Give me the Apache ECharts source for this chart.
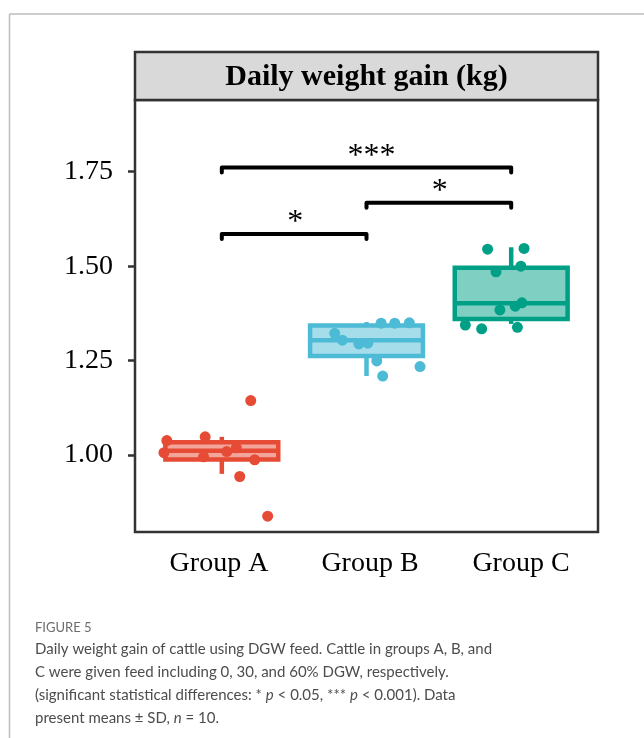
<!DOCTYPE html>
<html>
<head>
<meta charset="utf-8">
<script src="https://cdn.jsdelivr.net/npm/echarts@6/dist/echarts.min.js"></script>
<style>
  html, body { margin: 0; padding: 0; background: #fff; }
  #chart { width: 644px; height: 738px; }
</style>
</head>
<body>
<div id="chart"></div>
<script>
// Groups and their palette
const groups = ['Group A', 'Group B', 'Group C'];
const colors = ['#E64B35', '#4DBBD5', '#00A087'];
const fills = ['rgba(230,75,53,0.5)', 'rgba(77,187,213,0.5)', 'rgba(0,160,135,0.5)'];

// Daily weight gain of each animal (kg/day), n = 10 per group
const gainA = [1.144, 1.038, 1.006, 1.048, 0.995, 1.009, 1.019, 0.987, 0.943, 0.838];
const gainB = [1.322, 1.304, 1.294, 1.296, 1.249, 1.209, 1.349, 1.349, 1.350, 1.234];
const gainC = [1.545, 1.547, 1.485, 1.500, 1.384, 1.394, 1.403, 1.344, 1.334, 1.338];

// Horizontal jitter of each animal's dot (category units)
const jitterA = [0.20, -0.38, -0.40, -0.115, -0.126, 0.034, 0.10, 0.227, 0.124, 0.317];
const jitterB = [-0.22, -0.167, -0.053, 0.009, 0.071, 0.112, 0.101, 0.195, 0.296, 0.37];
const jitterC = [-0.163, 0.089, -0.105, 0.067, -0.078, 0.028, 0.074, -0.317, -0.204, 0.043];

// Box summaries: [whisker low, Q1, median, Q3, whisker high]
const boxA = [0.950, 0.988, 1.011, 1.034, 1.048];
const boxB = [1.209, 1.262, 1.304, 1.343, 1.352];
const boxC = [1.347, 1.360, 1.402, 1.496, 1.550];

// Y axis ticks
const yTicks = [1.00, 1.25, 1.50, 1.75];

// Significance brackets between groups (1-based group positions)
const bracketFrom = [1, 2, 1];
const bracketTo = [2, 3, 3];
const bracketY = [1.585, 1.668, 1.761];
const bracketMark = ['*', '*', '***'];

const gains = [gainA, gainB, gainC];
const jitters = [jitterA, jitterB, jitterC];
const boxes = [boxA, boxB, boxC];

const serif = '"Liberation Serif", "Times New Roman", serif';
const sans = 'Lato, "Open Sans", sans-serif';

const chart = echarts.init(document.getElementById('chart'), null, { renderer: 'canvas' });

const boxData = boxes.map((b, i) => [i + 1].concat(b));
const bracketData = bracketFrom.map((f, i) => [f, bracketTo[i], bracketY[i]]);

const pointSeries = gains.map((vals, g) => ({
  type: 'scatter',
  xAxisIndex: 0,
  yAxisIndex: 0,
  symbol: 'circle',
  symbolSize: 11,
  itemStyle: { color: colors[g], opacity: 1 },
  z: 5,
  silent: true,
  data: vals.map((v, k) => [g + 1 + jitters[g][k], v])
}));

const captionFont = '15px ' + sans;
const captionColor = '#4d4d4d';

const option = {
  animation: false,
  backgroundColor: '#fff',
  grid: {
    left: 135, right: 46, top: 100, bottom: 206,
    show: true,
    borderColor: '#333',
    borderWidth: 2.5,
    backgroundColor: 'transparent',
    containLabel: false
  },
  xAxis: [
    {
      type: 'value', min: 0.4, max: 3.6, position: 'bottom',
      axisLine: { show: false }, axisTick: { show: false },
      axisLabel: { show: false }, splitLine: { show: false }
    },
    {
      // label-only axis for the group names
      type: 'value', min: 0.4437, max: 3.51, position: 'bottom',
      axisLine: { show: false }, axisTick: { show: false },
      splitLine: { show: false },
      axisLabel: {
        customValues: [1, 2, 3],
        formatter: v => groups[Math.round(v) - 1],
        fontFamily: serif, fontSize: 28, color: '#000', margin: 18
      }
    }
  ],
  yAxis: {
    type: 'value', min: 0.796, max: 1.94,
    axisLine: { show: false },
    splitLine: { show: false },
    axisTick: {
      show: true, customValues: yTicks, length: 7,
      lineStyle: { color: '#333', width: 2.5 }
    },
    axisLabel: {
      customValues: yTicks,
      formatter: v => v.toFixed(2),
      fontFamily: serif, fontSize: 28, color: '#000', margin: 22
    }
  },
  series: [
    {
      type: 'custom',
      xAxisIndex: 0, yAxisIndex: 0,
      silent: true,
      z: 3,
      data: boxData,
      renderItem: (params, api) => {
        const i = params.dataIndex;
        const x = api.value(0);
        const pLow = api.coord([x, api.value(1)]);
        const pQ1 = api.coord([x, api.value(2)]);
        const pMed = api.coord([x, api.value(3)]);
        const pQ3 = api.coord([x, api.value(4)]);
        const pHigh = api.coord([x, api.value(5)]);
        const halfW = api.size([0.78, 0])[0] / 2;
        const cx = pMed[0];
        const stroke = { stroke: colors[i], lineWidth: 4.5 };
        return {
          type: 'group',
          children: [
            { type: 'line', shape: { x1: cx, y1: pQ1[1], x2: cx, y2: pLow[1] }, style: stroke },
            { type: 'line', shape: { x1: cx, y1: pQ3[1], x2: cx, y2: pHigh[1] }, style: stroke },
            {
              type: 'rect',
              shape: { x: cx - halfW, y: pQ3[1], width: 2 * halfW, height: pQ1[1] - pQ3[1] },
              style: { fill: fills[i], stroke: colors[i], lineWidth: 4.5 }
            },
            { type: 'line', shape: { x1: cx - halfW, y1: pMed[1], x2: cx + halfW, y2: pMed[1] }, style: stroke }
          ]
        };
      }
    },
    ...pointSeries,
    {
      type: 'custom',
      xAxisIndex: 0, yAxisIndex: 0,
      silent: true,
      z: 6,
      data: bracketData,
      renderItem: (params, api) => {
        const i = params.dataIndex;
        const p1 = api.coord([api.value(0), api.value(2)]);
        const p2 = api.coord([api.value(1), api.value(2)]);
        const hook = 5;
        return {
          type: 'group',
          children: [
            {
              type: 'polyline',
              shape: { points: [[p1[0], p1[1] + hook], [p1[0], p1[1]], [p2[0], p2[1]], [p2[0], p2[1] + hook]] },
              style: { stroke: '#000', lineWidth: 4, fill: null, lineJoin: 'round', lineCap: 'round' }
            },
            {
              type: 'text',
              x: (p1[0] + p2[0]) / 2 + (bracketMark[i].length > 1 ? 5 : 1),
              y: p1[1] + 5,
              style: {
                text: bracketMark[i],
                font: '32px ' + serif,
                fill: '#000',
                align: 'center',
                verticalAlign: 'bottom'
              }
            }
          ]
        };
      }
    }
  ],
  graphic: [
    // page frame
    { type: 'line', shape: { x1: 9.5, y1: 14, x2: 644, y2: 14 }, style: { stroke: '#bdbdbd', lineWidth: 1.5 } },
    { type: 'line', shape: { x1: 9.5, y1: 14, x2: 9.5, y2: 738 }, style: { stroke: '#bdbdbd', lineWidth: 1.5 } },
    // facet strip
    {
      type: 'rect', z: 10,
      shape: { x: 135, y: 52, width: 463, height: 48 },
      style: { fill: '#d9d9d9', stroke: '#333', lineWidth: 2.5 }
    },
    {
      type: 'text', z: 11, x: 366.5, y: 77,
      style: {
        text: 'Daily weight gain (kg)', font: 'bold 30px ' + serif,
        fill: '#000', align: 'center', verticalAlign: 'middle'
      }
    },
    // caption
    {
      type: 'text', x: 35, y: 628,
      style: { text: 'FIGURE 5', font: '13px ' + sans, fill: '#6d6d6d', verticalAlign: 'middle' }
    },
    {
      type: 'text', x: 35, y: 649,
      style: { text: 'Daily weight gain of cattle using DGW feed. Cattle in groups A, B, and', font: captionFont, fill: captionColor, verticalAlign: 'middle' }
    },
    {
      type: 'text', x: 35, y: 672,
      style: { text: 'C were given feed including 0, 30, and 60% DGW, respectively.', font: captionFont, fill: captionColor, verticalAlign: 'middle' }
    },
    {
      type: 'text', x: 35, y: 695,
      style: {
        text: '(significant statistical differences: * {i|p} < 0.05, *** {i|p} < 0.001). Data',
        font: captionFont, fill: captionColor, verticalAlign: 'middle',
        rich: { i: { font: 'italic ' + captionFont, fill: captionColor } }
      }
    },
    {
      type: 'text', x: 35, y: 718,
      style: {
        text: 'present means ± SD, {i|n} = 10.',
        font: captionFont, fill: captionColor, verticalAlign: 'middle',
        rich: { i: { font: 'italic ' + captionFont, fill: captionColor } }
      }
    }
  ]
};

chart.setOption(option);
</script>
</body>
</html>
